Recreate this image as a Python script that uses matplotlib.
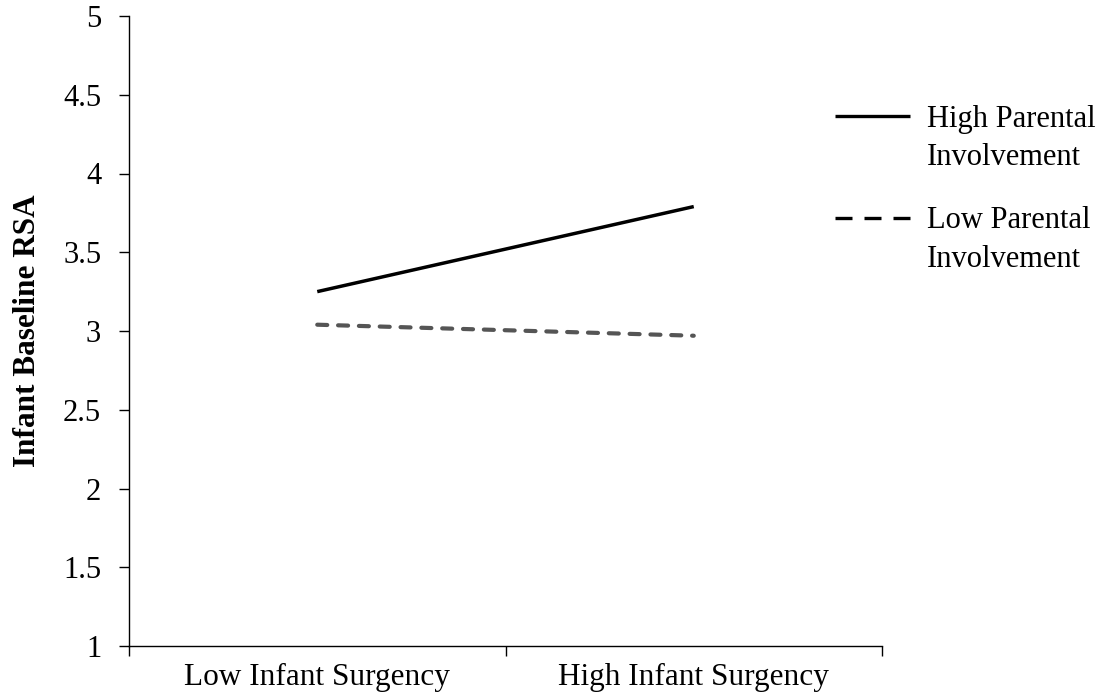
import matplotlib.pyplot as plt
from matplotlib.lines import Line2D

plt.rcParams['font.family'] = ['Liberation Serif', 'DejaVu Serif']

categories = ["Low Infant Surgency", "High Infant Surgency"]
high_parental = [3.25, 3.79]
low_parental = [3.04, 2.97]
yticks = [1, 1.5, 2, 2.5, 3, 3.5, 4, 4.5, 5]
ytick_labels = ["1", "1.5", "2", "2.5", "3", "3.5", "4", "4.5", "5"]
legend_labels = [("High Parental", "Involvement"), ("Low Parental", "Involvement")]

W, H = 1115, 700
fig = plt.figure(figsize=(W / 100, H / 100), dpi=100)
ax = fig.add_axes([129 / W, 54 / H, 753 / W, 630 / H])

x = list(range(len(categories)))
ax.plot(x, high_parental, color="black", lw=2.5, solid_capstyle="butt")
ax.plot(x, low_parental, color="#555555", lw=3, dashes=(2.4, 2.6), dash_capstyle="round")

ax.set_xlim(-0.5, 1.5)
ax.set_ylim(1, 5)
ax.set_yticks(yticks)
ax.set_yticklabels(ytick_labels)
ax.set_xticks(x)
ax.set_xticklabels(categories)
ax.set_xticks([-0.5, 0.5, 1.5], minor=True)
ax.tick_params(axis="x", which="major", length=0, pad=12, labelsize=22.5)
ax.tick_params(axis="x", which="minor", length=7, width=1, direction="out")
ax.tick_params(axis="y", length=7, width=1, direction="out", pad=13, labelsize=22)

for s in ["top", "right"]:
    ax.spines[s].set_visible(False)
for s in ["left", "bottom"]:
    ax.spines[s].set_linewidth(1)

ax.set_ylabel("Infant Baseline RSA", fontsize=22.5, fontweight="bold", labelpad=15)

# legend drawn by hand: handle aligned with first text line
styles = [dict(color="black", lw=2.4), dict(color="black", lw=2.4, dashes=(5.1, 3.6))]
handle_y = [116, 218]
baselines = [(127, 165), (228, 267)]
for (l1, l2), st, hy, (b1, b2) in zip(legend_labels, styles, handle_y, baselines):
    fig.add_artist(Line2D([835 / W, 910 / W], [1 - hy / H] * 2,
                          transform=fig.transFigure, solid_capstyle="butt",
                          dash_capstyle="butt", **st))
    fig.text(927 / W, 1 - b1 / H, l1, fontsize=22, va="baseline", ha="left")
    fig.text(927 / W, 1 - b2 / H, l2, fontsize=22, va="baseline", ha="left")

fig.savefig("out.png", dpi=100)
